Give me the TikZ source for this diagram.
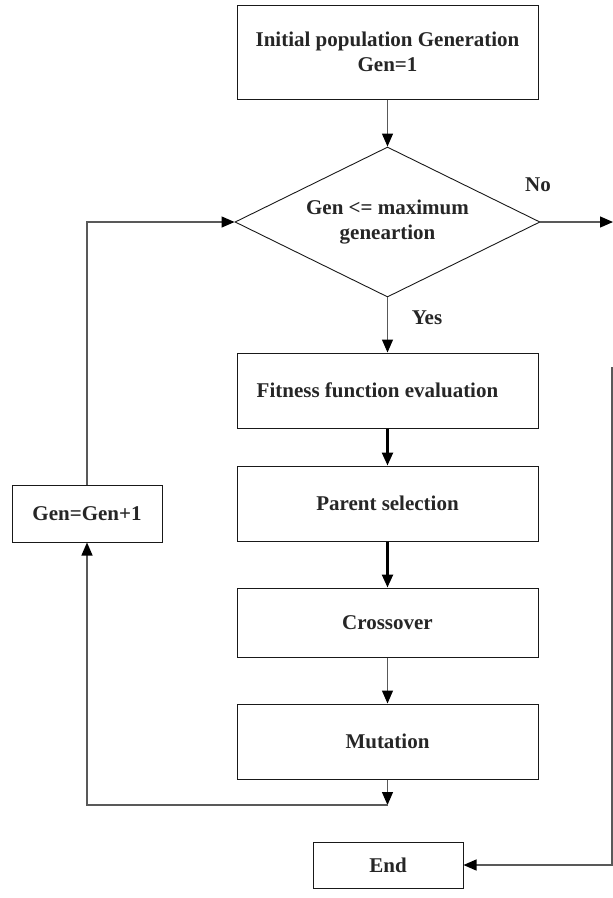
\documentclass[tikz,border=0pt]{standalone}
\usepackage{fontspec}
\setmainfont{Liberation Serif}
\usetikzlibrary{arrows.meta,shapes.geometric}
\begin{document}
\begin{tikzpicture}[x=1pt,y=-1pt,
  txt/.style={font=\fontsize{21}{25}\selectfont\bfseries, text=black!85},
  stepbox/.style={txt, draw=black!90, line width=1pt, rectangle, inner sep=0pt,
    minimum width=301pt, minimum height=75pt},
  decision/.style={txt, draw=black!90, line width=0.9pt, diamond, aspect=2,
    inner sep=0pt, minimum width=305pt, minimum height=150pt, align=center},
  conn/.style={draw=black!65, line width=1.2pt,
    -{Triangle[length=13pt,width=11pt,fill=black,color=black]}},
  bold conn/.style={draw=black, line width=2.4pt,
    -{Triangle[length=13pt,width=11pt,fill=black,color=black]}},
  plain/.style={draw=black!65, line width=1.2pt}
]
\useasboundingbox (0,0) rectangle (613,898);

% main column of steps
\node[stepbox, minimum height=94pt, align=center] (init) at (387.5,52)
  {Initial population Generation\\Gen=1};
\node[decision] (test) at (387.5,222) {Gen <= maximum\\geneartion};
\node[stepbox] (fit) at (387.5,390.5) {Fitness function evaluation\hspace*{20pt}};
\node[stepbox] (par) at (387.5,503.5) {Parent selection};
\node[stepbox, minimum height=69pt] (cro) at (387.5,622.5) {Crossover};
\node[stepbox] (mut) at (387.5,741.5) {Mutation};

% side boxes
\node[stepbox, minimum width=150pt, minimum height=57pt] (gen) at (87,513.5) {Gen=Gen+1};
\node[stepbox, minimum width=150pt, minimum height=46pt] (end) at (388,865) {End};

% branch labels
\node[txt] (no) at (538,185) {No};
\node[txt] (yes) at (427,318) {Yes};

% helper points for the loop and the exit
\coordinate (join) at (387.5,805);
\coordinate (exit) at (613,222);
\coordinate (back) at (612,367);

% forward flow
\draw[conn] (init) -- (test);
\draw[conn] (test) -- (fit);
\draw[bold conn] (fit) -- (par);
\draw[bold conn] (par) -- (cro);
\draw[conn] (cro) -- (mut);
\draw[conn] (mut) -- (join);

% generation loop
\draw[conn] (join) -| (gen.south);
\draw[conn] (gen.north) |- (test.west);

% termination
\draw[conn] (test.east) -- (exit);
\draw[conn] (back) |- (end.east);
\end{tikzpicture}
\end{document}
